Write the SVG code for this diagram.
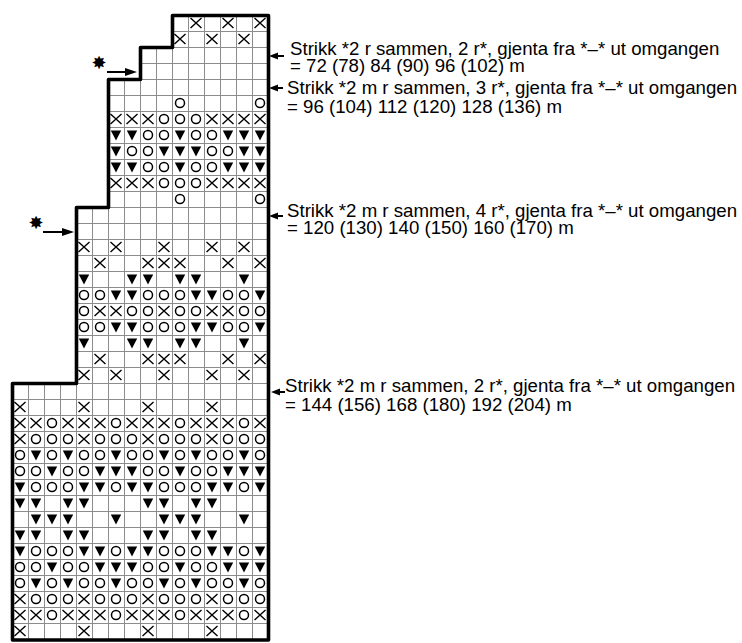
<svg xmlns="http://www.w3.org/2000/svg" width="742" height="643" viewBox="0 0 742 643">
<style>
.grid{fill:none;stroke:#8c8c8c;stroke-width:1}
.outline{fill:none;stroke:#000;stroke-width:3.600;stroke-linejoin:round}
.sx{fill:none;stroke:#000;stroke-width:1.4}
.so{fill:none;stroke:#000;stroke-width:1.5}
.st{fill:#000}
.lead{fill:none;stroke:#000;stroke-width:1.800}
.head{fill:#000}
text{font-family:"Liberation Sans",Arial,sans-serif;font-size:18.670px;fill:#000}
.star{font-family:"DejaVu Sans",sans-serif;font-size:18px;text-anchor:middle}
</style>
<defs>
<path id="x" class="sx" d="M-5.5-5L5.500 5M-5.500 5L5.500-5"/>
<circle id="o" class="so" r="4.500"/>
<path id="t" class="st" d="M-5.200-4.500H5.200L0 5.500Z"/>
<g id="a"><use href="#x" x="196"/><use href="#x" x="228"/><use href="#x" x="260"/></g>
<g id="b"><use href="#x" x="180"/><use href="#x" x="212"/><use href="#x" x="244"/></g>
<g id="c"><use href="#o" x="180"/><use href="#o" x="260"/></g>
<g id="d"><use href="#x" x="116"/><use href="#x" x="132"/><use href="#x" x="148"/><use href="#o" x="164"/><use href="#o" x="180"/><use href="#o" x="196"/><use href="#x" x="212"/><use href="#x" x="228"/><use href="#x" x="244"/><use href="#x" x="260"/></g>
<g id="e"><use href="#t" x="116"/><use href="#t" x="132"/><use href="#o" x="148"/><use href="#o" x="164"/><use href="#t" x="180"/><use href="#o" x="196"/><use href="#o" x="212"/><use href="#t" x="228"/><use href="#t" x="244"/><use href="#t" x="260"/></g>
<g id="f"><use href="#t" x="116"/><use href="#o" x="132"/><use href="#o" x="148"/><use href="#t" x="164"/><use href="#t" x="180"/><use href="#t" x="196"/><use href="#o" x="212"/><use href="#o" x="228"/><use href="#t" x="244"/><use href="#t" x="260"/></g>
<g id="g"><use href="#x" x="84"/><use href="#x" x="116"/><use href="#x" x="164"/><use href="#x" x="212"/><use href="#x" x="244"/></g>
<g id="h"><use href="#x" x="100"/><use href="#x" x="148"/><use href="#x" x="164"/><use href="#x" x="180"/><use href="#x" x="228"/><use href="#x" x="260"/></g>
<g id="i"><use href="#t" x="84"/><use href="#t" x="132"/><use href="#t" x="148"/><use href="#t" x="180"/><use href="#t" x="196"/><use href="#t" x="244"/></g>
<g id="j"><use href="#o" x="84"/><use href="#o" x="100"/><use href="#t" x="116"/><use href="#t" x="132"/><use href="#o" x="148"/><use href="#o" x="164"/><use href="#o" x="180"/><use href="#t" x="196"/><use href="#t" x="212"/><use href="#o" x="228"/><use href="#o" x="244"/><use href="#t" x="260"/></g>
<g id="k"><use href="#o" x="84"/><use href="#x" x="100"/><use href="#x" x="116"/><use href="#o" x="132"/><use href="#o" x="148"/><use href="#x" x="164"/><use href="#o" x="180"/><use href="#o" x="196"/><use href="#x" x="212"/><use href="#x" x="228"/><use href="#o" x="244"/><use href="#o" x="260"/></g>
<g id="l"><use href="#x" x="20"/><use href="#x" x="84"/><use href="#x" x="148"/><use href="#x" x="212"/></g>
<g id="m"><use href="#x" x="20"/><use href="#x" x="36"/><use href="#o" x="52"/><use href="#x" x="68"/><use href="#x" x="84"/><use href="#x" x="100"/><use href="#o" x="116"/><use href="#x" x="132"/><use href="#x" x="148"/><use href="#x" x="164"/><use href="#o" x="180"/><use href="#x" x="196"/><use href="#x" x="212"/><use href="#x" x="228"/><use href="#o" x="244"/><use href="#x" x="260"/></g>
<g id="n"><use href="#x" x="20"/><use href="#o" x="36"/><use href="#o" x="52"/><use href="#o" x="68"/><use href="#x" x="84"/><use href="#o" x="100"/><use href="#o" x="116"/><use href="#o" x="132"/><use href="#x" x="148"/><use href="#o" x="164"/><use href="#o" x="180"/><use href="#o" x="196"/><use href="#x" x="212"/><use href="#o" x="228"/><use href="#o" x="244"/><use href="#o" x="260"/></g>
<g id="p"><use href="#o" x="20"/><use href="#t" x="36"/><use href="#o" x="52"/><use href="#t" x="68"/><use href="#o" x="84"/><use href="#o" x="100"/><use href="#t" x="116"/><use href="#o" x="132"/><use href="#o" x="148"/><use href="#t" x="164"/><use href="#o" x="180"/><use href="#t" x="196"/><use href="#o" x="212"/><use href="#o" x="228"/><use href="#t" x="244"/><use href="#o" x="260"/></g>
<g id="q"><use href="#o" x="20"/><use href="#o" x="36"/><use href="#t" x="52"/><use href="#o" x="68"/><use href="#o" x="84"/><use href="#t" x="100"/><use href="#t" x="116"/><use href="#t" x="132"/><use href="#o" x="148"/><use href="#o" x="164"/><use href="#t" x="180"/><use href="#o" x="196"/><use href="#o" x="212"/><use href="#t" x="228"/><use href="#t" x="244"/><use href="#t" x="260"/></g>
<g id="r"><use href="#t" x="20"/><use href="#o" x="36"/><use href="#o" x="52"/><use href="#o" x="68"/><use href="#t" x="84"/><use href="#t" x="100"/><use href="#o" x="116"/><use href="#t" x="132"/><use href="#t" x="148"/><use href="#o" x="164"/><use href="#o" x="180"/><use href="#o" x="196"/><use href="#t" x="212"/><use href="#t" x="228"/><use href="#o" x="244"/><use href="#t" x="260"/></g>
<g id="s"><use href="#t" x="20"/><use href="#t" x="36"/><use href="#t" x="68"/><use href="#t" x="84"/><use href="#t" x="148"/><use href="#t" x="164"/><use href="#t" x="196"/><use href="#t" x="212"/></g>
<g id="u"><use href="#t" x="36"/><use href="#t" x="52"/><use href="#t" x="68"/><use href="#t" x="116"/><use href="#t" x="164"/><use href="#t" x="180"/><use href="#t" x="196"/><use href="#t" x="244"/></g>
</defs>
<rect width="742" height="643" fill="#fff"/>
<g id="chart">
<path class="grid" d="M172 31.500H268M140 47.500H268M140 63.500H268M108 79.500H268M108 95.500H268M108 111.500H268M108 127.500H268M108 143.500H268M108 159.500H268M108 175.500H268M108 191.500H268M76 207.500H268M76 223.500H268M76 239.500H268M76 255.500H268M76 271.500H268M76 287.500H268M76 303.500H268M76 319.500H268M76 335.500H268M76 351.500H268M76 367.500H268M12 383.500H268M12 399.500H268M12 415.500H268M12 431.500H268M12 447.500H268M12 463.500H268M12 479.500H268M12 495.500H268M12 511.500H268M12 527.500H268M12 543.500H268M12 559.500H268M12 575.500H268M12 591.500H268M12 607.500H268M12 623.500H268M28.500 383V639M44.500 383V639M60.500 383V639M76.500 383V639M92.500 207V639M108.500 207V639M124.500 79V639M140.500 79V639M156.500 47V639M172.500 47V639M188.500 15V639M204.500 15V639M220.500 15V639M236.500 15V639M252.500 15V639"/>
<g id="symbols">
<use href="#a" y="23"/><use href="#b" y="39"/><use href="#c" y="103"/><use href="#d" y="119"/><use href="#e" y="135"/><use href="#f" y="151"/><use href="#e" y="167"/><use href="#d" y="183"/><use href="#c" y="199"/>
<use href="#g" y="247"/><use href="#h" y="263"/><use href="#i" y="279"/><use href="#j" y="295"/><use href="#k" y="311"/><use href="#j" y="327"/><use href="#i" y="343"/><use href="#h" y="359"/><use href="#g" y="375"/>
<use href="#l" y="407"/><use href="#m" y="423"/><use href="#n" y="439"/><use href="#p" y="455"/><use href="#q" y="471"/><use href="#r" y="487"/><use href="#s" y="503"/><use href="#u" y="519"/><use href="#s" y="535"/><use href="#r" y="551"/><use href="#q" y="567"/><use href="#p" y="583"/><use href="#n" y="599"/><use href="#m" y="615"/><use href="#l" y="631"/>
</g>
<path class="outline" d="M12.500 640V383.500H76.500V207.500H108.500V79.500H140.500V47.500H172.500V15.500H268.500V640Z"/>
</g>
<g id="connectors">
<path class="lead" d="M107 72H129M43 232H66M284 56H276M283 88H276M283 216H276M285 392H278"/>
<path class="head" d="M137 72L125 68V76ZM74 232L62 228V236ZM269 56L278 52.500V59.500ZM269 88L278 84.500V91.500ZM269 216L278 212.500V219.500ZM271 392L280 388.500V395.500Z"/>
</g>
<g id="labels">
<text class="star" x="99" y="69">✸</text>
<text class="star" x="36" y="229">✸</text>
<text x="290" y="55">Strikk *2 r sammen, 2 r*, gjenta fra *–* ut omgangen</text>
<text x="290" y="72">= 72 (78) 84 (90) 96 (102) m</text>
<text x="287" y="94">Strikk *2 m r sammen, 3 r*, gjenta fra *–* ut omgangen</text>
<text x="287" y="113">= 96 (104) 112 (120) 128 (136) m</text>
<text x="287" y="217">Strikk *2 m r sammen, 4 r*, gjenta fra *–* ut omgangen</text>
<text x="287" y="234">= 120 (130) 140 (150) 160 (170) m</text>
<text x="285" y="392">Strikk *2 m r sammen, 2 r*, gjenta fra *–* ut omgangen</text>
<text x="285" y="411">= 144 (156) 168 (180) 192 (204) m</text>
</g>
</svg>
